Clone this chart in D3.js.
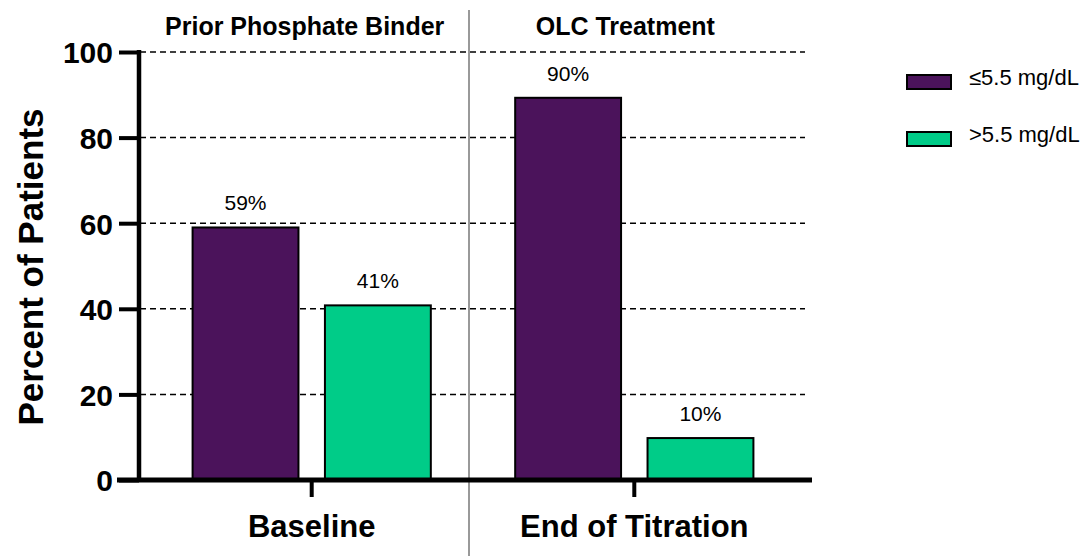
<!DOCTYPE html>
<html>
<head>
<meta charset="utf-8">
<script src="https://cdn.jsdelivr.net/npm/d3@7"></script>
<style>
  body { margin: 0; background: #fff; }
  svg { display: block; font-family: "Liberation Sans", Arial, sans-serif; }
  .grid line { stroke: #000; stroke-width: 1.5; stroke-dasharray: 6 4; }
</style>
</head>
<body>
<div id="chart"></div>
<script>
var groups = ["Baseline", "End of Titration"];
var phases = ["Prior Phosphate Binder", "OLC Treatment"];
var series = ["≤5.5 mg/dL", ">5.5 mg/dL"];
var lowValues = [59, 89.3];
var highValues = [40.8, 9.8];
var lowLabels = ["59%", "90%"];
var highLabels = ["41%", "10%"];
var yTicks = [0, 20, 40, 60, 80, 100];
var colors = ["#4b135b", "#00cc88"];

var width = 1085, height = 559;

var data = groups.map(function (g, i) {
    return {group: g, values: [
        {key: series[0], value: lowValues[i], label: lowLabels[i]},
        {key: series[1], value: highValues[i], label: highLabels[i]}
    ]};
});

var svg = d3.select("#chart").append("svg")
    .attr("width", width)
    .attr("height", height);

var x0 = d3.scaleBand()
    .domain(groups)
    .range([140, 806])
    .paddingInner(0.2615)
    .paddingOuter(0.163);

var x1 = d3.scaleBand()
    .domain(series)
    .range([0, x0.bandwidth()])
    .paddingInner(0.2);

var y = d3.scaleLinear()
    .domain([0, 100])
    .range([480, 52]);

var color = d3.scaleOrdinal().domain(series).range(colors);

// dashed gridlines
svg.append("g")
    .attr("class", "grid")
    .selectAll("line")
    .data(yTicks.filter(function (d) { return d > 0; }))
    .enter().append("line")
    .attr("x1", 140)
    .attr("x2", 805)
    .attr("y1", function (d) { return y(d); })
    .attr("y2", function (d) { return y(d); });

// separator between phases
var sepX = (x0(groups[0]) + x0.bandwidth() + x0(groups[1])) / 2 - 4;
svg.append("line")
    .attr("x1", sepX).attr("x2", sepX)
    .attr("y1", 10).attr("y2", 556)
    .attr("stroke", "#999")
    .attr("stroke-width", 2);

// bars
var groupG = svg.selectAll("g.group")
    .data(data)
    .enter().append("g")
    .attr("class", "group")
    .attr("transform", function (d) { return "translate(" + x0(d.group) + ",0)"; });

groupG.selectAll("rect")
    .data(function (d) { return d.values; })
    .enter().append("rect")
    .attr("x", function (d) { return x1(d.key); })
    .attr("y", function (d) { return y(d.value); })
    .attr("width", x1.bandwidth())
    .attr("height", function (d) { return y(0) - y(d.value); })
    .attr("fill", function (d) { return color(d.key); })
    .attr("stroke", "#000")
    .attr("stroke-width", 2);

groupG.selectAll("text.val")
    .data(function (d) { return d.values; })
    .enter().append("text")
    .attr("class", "val")
    .attr("x", function (d) { return x1(d.key) + x1.bandwidth() / 2; })
    .attr("y", function (d) { return y(d.value) - 17; })
    .attr("text-anchor", "middle")
    .style("font-size", "21px")
    .text(function (d) { return d.label; });

// y axis
var yAxis = d3.axisLeft(y)
    .tickValues(yTicks)
    .tickSize(20)
    .tickPadding(6);

var yG = svg.append("g")
    .attr("transform", "translate(139,0)")
    .call(yAxis);
yG.select(".domain").remove();
yG.selectAll(".tick line").attr("stroke", "#000").attr("stroke-width", 4);
yG.selectAll(".tick text")
    .attr("fill", "#000")
    .style("font-size", "30px")
    .style("font-weight", "bold")
    .attr("dy", "0.36em");
yG.append("line")
    .attr("x1", 0).attr("x2", 0)
    .attr("y1", y(100) - 2).attr("y2", y(0) + 2)
    .attr("stroke", "#000")
    .attr("stroke-width", 4.5);

// x axis
var xAxis = d3.axisBottom(x0)
    .tickSize(17)
    .tickPadding(18);

var xG = svg.append("g")
    .attr("transform", "translate(0," + y(0) + ")")
    .call(xAxis);
xG.select(".domain").remove();
xG.selectAll(".tick line").attr("stroke", "#000").attr("stroke-width", 4);
xG.selectAll(".tick text")
    .attr("fill", "#000")
    .style("font-size", "31px")
    .style("font-weight", "bold");
xG.append("line")
    .attr("x1", 117).attr("x2", 812)
    .attr("y1", 0).attr("y2", 0)
    .attr("stroke", "#000")
    .attr("stroke-width", 5);

// phase titles
svg.selectAll("text.phase")
    .data(phases)
    .enter().append("text")
    .attr("class", "phase")
    .attr("x", function (d, i) { return x0(groups[i]) + x0.bandwidth() / 2 - [7, 9][i]; })
    .attr("y", 35)
    .attr("text-anchor", "middle")
    .style("font-size", "25px")
    .style("font-weight", "bold")
    .text(function (d) { return d; });

// y title
svg.append("text")
    .attr("transform", "translate(43,267) rotate(-90)")
    .attr("text-anchor", "middle")
    .style("font-size", "35px")
    .style("font-weight", "bold")
    .text("Percent of Patients");

// legend
var legend = svg.selectAll("g.legend")
    .data(series)
    .enter().append("g")
    .attr("class", "legend")
    .attr("transform", function (d, i) { return "translate(907," + (75 + i * 57) + ")"; });

legend.append("rect")
    .attr("width", 44)
    .attr("height", 14)
    .attr("fill", function (d) { return color(d); })
    .attr("stroke", "#000")
    .attr("stroke-width", 2);

legend.append("text")
    .attr("x", 62)
    .attr("y", 10)
    .style("font-size", "22px")
    .text(function (d) { return d; });
</script>
</body>
</html>
